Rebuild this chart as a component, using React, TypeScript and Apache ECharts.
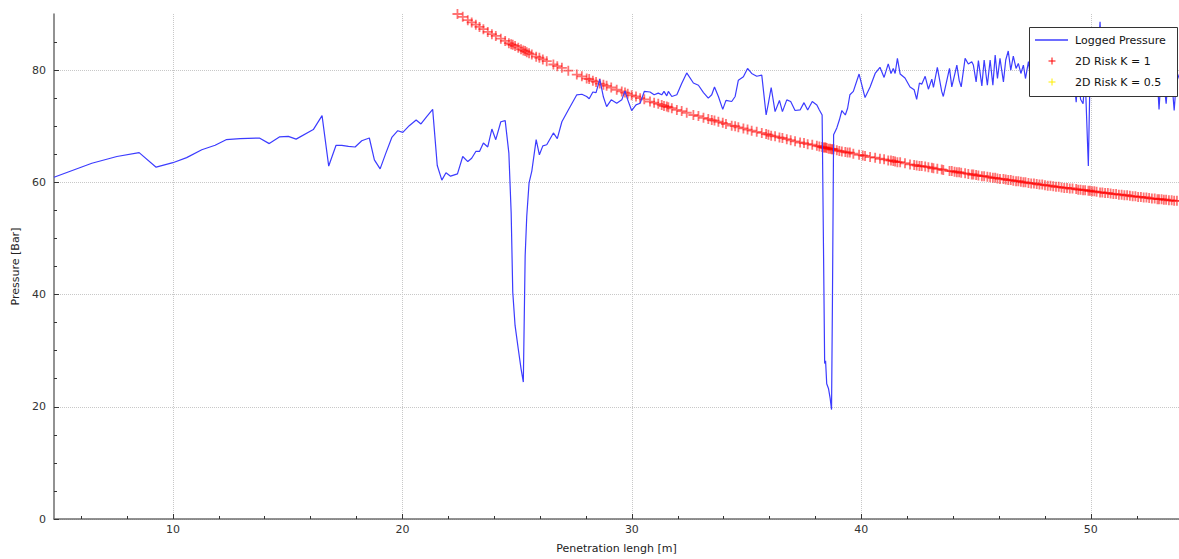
import React, { useEffect, useRef } from "react";
import * as echarts from "echarts";

const FONT = "'DejaVu Sans', sans-serif";

const X_MIN = 4.82;
const X_MAX = 53.84;
const Y_MIN = 0;
const Y_MAX = 90;
const X_MAJOR = [10, 20, 30, 40, 50];
const X_MINOR = [6, 8, 12, 14, 16, 18, 22, 24, 26, 28, 32, 34, 36, 38, 42, 44, 46, 48, 52];
const Y_MAJOR = [0, 20, 40, 60, 80];
const Y_MINOR = [5, 10, 15, 25, 30, 35, 45, 50, 55, 65, 70, 75, 85];

const X_NAME = "Penetration lengh [m]";
const Y_NAME = "Pressure [Bar]";
const LEGEND_NAMES = ["Logged Pressure", "2D Risk K = 1", "2D Risk K = 0.5"];

const loggedPressure: [number, number][] = [
  [4.82, 60.9], [6.47, 63.4], [7.56, 64.6], [8.53, 65.3], [9.27, 62.7], [10.0, 63.5], [10.6, 64.4],
  [11.26, 65.8], [11.84, 66.6], [12.32, 67.6], [12.93, 67.8], [13.77, 67.9], [14.2, 66.9], [14.64, 68.1],
  [15.03, 68.2], [15.37, 67.7], [16.12, 69.4], [16.5, 71.9], [16.79, 62.9], [17.11, 66.6], [17.36, 66.6],
  [17.65, 66.4], [17.94, 66.3], [18.23, 67.4], [18.56, 67.9], [18.78, 64.0], [19.03, 62.4], [19.28, 65.2],
  [19.54, 68.0], [19.8, 69.2], [20.02, 68.9], [20.3, 70.1], [20.6, 71.1], [20.81, 70.4], [21.06, 71.7],
  [21.32, 73.0], [21.52, 63.0], [21.72, 60.4], [21.9, 61.7], [22.1, 61.1], [22.4, 61.5], [22.63, 64.6],
  [22.85, 63.7], [23.02, 64.3], [23.2, 65.5], [23.36, 65.5], [23.53, 67.0], [23.72, 66.3], [23.9, 69.5],
  [24.07, 67.6], [24.29, 70.8], [24.48, 71.0], [24.64, 65.2], [24.74, 54.6], [24.81, 40.4], [24.91, 34.5],
  [25.05, 30.3], [25.17, 26.8], [25.27, 24.4], [25.35, 46.9], [25.42, 54.0], [25.52, 59.9], [25.64, 62.0],
  [25.83, 67.6], [25.97, 64.9], [26.12, 66.5], [26.29, 66.7], [26.58, 68.8], [26.75, 67.8], [26.95, 70.8],
  [27.23, 72.9], [27.6, 75.6], [27.82, 75.7], [28.03, 75.3], [28.14, 74.9], [28.3, 76.1], [28.44, 76.0],
  [28.6, 78.4], [28.76, 75.2], [28.9, 73.5], [29.1, 74.7], [29.34, 74.1], [29.56, 74.7], [29.7, 76.3],
  [29.82, 74.7], [29.99, 72.8], [30.18, 73.8], [30.36, 74.1], [30.54, 76.2], [30.79, 76.1], [30.97, 75.6],
  [31.15, 75.9], [31.3, 75.6], [31.4, 76.2], [31.52, 75.4], [31.59, 76.2], [31.74, 75.3], [31.96, 75.6],
  [32.17, 77.6], [32.39, 79.5], [32.68, 77.7], [32.9, 77.3], [33.12, 76.0], [33.33, 75.0], [33.48, 75.6],
  [33.6, 77.0], [33.77, 75.3], [33.96, 73.0], [34.1, 74.6], [34.35, 74.4], [34.5, 75.3], [34.64, 78.2],
  [34.86, 78.8], [35.04, 80.3], [35.22, 79.4], [35.44, 78.9], [35.66, 79.1], [35.85, 72.0], [35.95, 74.1],
  [36.07, 76.9], [36.24, 72.6], [36.43, 74.6], [36.56, 72.6], [36.75, 74.7], [36.92, 74.4], [37.11, 72.8],
  [37.33, 72.9], [37.5, 74.2], [37.66, 72.9], [37.86, 74.4], [38.06, 73.8], [38.17, 72.9], [38.29, 72.0],
  [38.35, 48.1], [38.4, 27.7], [38.44, 28.2], [38.49, 24.1], [38.57, 23.2], [38.64, 21.5], [38.7, 19.5],
  [38.74, 39.2], [38.79, 68.5], [38.93, 69.7], [39.04, 71.1], [39.15, 72.8], [39.3, 72.0], [39.4, 73.2],
  [39.5, 75.6], [39.65, 76.2], [39.9, 79.3], [40.06, 76.7], [40.16, 75.1], [40.38, 77.0], [40.6, 79.4],
  [40.81, 80.5], [40.99, 78.7], [41.17, 81.1], [41.29, 79.4], [41.39, 80.3], [41.47, 79.4], [41.57, 82.1],
  [41.69, 79.3], [41.9, 78.6], [42.12, 77.0], [42.3, 76.5], [42.41, 74.8], [42.53, 77.7], [42.63, 77.5],
  [42.78, 78.9], [42.92, 76.6], [43.07, 78.4], [43.14, 76.9], [43.31, 80.5], [43.5, 76.2], [43.57, 75.3],
  [43.84, 80.3], [43.94, 77.0], [44.06, 79.1], [44.16, 80.9], [44.26, 78.2], [44.35, 77.0], [44.52, 82.1],
  [44.66, 81.1], [44.81, 81.5], [44.88, 80.9], [45.0, 77.9], [45.1, 81.7], [45.25, 77.2], [45.35, 81.8],
  [45.49, 77.3], [45.61, 81.8], [45.73, 77.3], [45.83, 82.7], [45.93, 78.5], [46.04, 82.1], [46.19, 77.9],
  [46.29, 81.8], [46.4, 83.4], [46.51, 80.0], [46.62, 82.5], [46.74, 80.3], [46.84, 81.2], [46.95, 79.4],
  [47.06, 80.9], [47.15, 78.5], [47.28, 81.5], [47.4, 78.0], [47.52, 81.9], [47.64, 78.6], [47.76, 82.3],
  [47.88, 79.0], [48.0, 81.6], [48.12, 77.8], [48.24, 82.0], [48.36, 79.2], [48.48, 81.4], [48.6, 78.1],
  [48.72, 82.4], [48.84, 79.5], [48.96, 81.2], [49.08, 78.4], [49.2, 81.0], [49.36, 74.3], [49.45, 79.5],
  [49.55, 74.8], [49.66, 74.0], [49.75, 79.0], [49.89, 62.9], [49.96, 78.5], [50.05, 75.2], [50.15, 80.0],
  [50.25, 78.0], [50.4, 88.6], [50.5, 79.0], [50.62, 82.0], [50.74, 78.6], [50.86, 81.8], [50.98, 79.0],
  [51.1, 82.2], [51.22, 78.4], [51.34, 81.5], [51.46, 79.2], [51.58, 82.0], [51.7, 78.8], [51.82, 81.6],
  [51.94, 79.4], [52.06, 82.1], [52.18, 78.5], [52.3, 81.3], [52.42, 79.0], [52.54, 81.9], [52.66, 78.7],
  [52.78, 81.0], [52.9, 78.2], [52.97, 73.0], [53.08, 80.5], [53.18, 77.8], [53.28, 74.0], [53.4, 80.2],
  [53.52, 78.5], [53.63, 72.8], [53.75, 79.6], [53.9, 78.0],
];

const riskK1: [number, number][] = [
  [22.4, 90.0], [22.63, 89.5], [22.85, 88.9], [23.02, 88.5], [23.2, 88.1], [23.36, 87.7], [23.53, 87.3],
  [23.72, 86.8], [23.9, 86.4], [24.07, 86.1], [24.29, 85.6], [24.48, 85.2], [24.64, 84.8], [24.74, 84.6],
  [24.81, 84.5], [24.91, 84.3], [25.05, 84.0], [25.17, 83.7], [25.27, 83.5], [25.35, 83.4], [25.42, 83.2],
  [25.52, 83.0], [25.64, 82.8], [25.83, 82.4], [25.97, 82.2], [26.12, 81.9], [26.29, 81.6], [26.58, 81.0],
  [26.75, 80.7], [26.95, 80.4], [27.23, 79.9], [27.6, 79.2], [27.82, 78.9], [28.03, 78.5], [28.14, 78.4],
  [28.3, 78.1], [28.44, 77.9], [28.6, 77.6], [28.76, 77.4], [28.9, 77.2], [29.1, 76.9], [29.34, 76.5],
  [29.56, 76.2], [29.7, 76.0], [29.82, 75.8], [29.99, 75.5], [30.18, 75.3], [30.36, 75.0], [30.54, 74.8],
  [30.79, 74.4], [30.97, 74.2], [31.15, 74.0], [31.3, 73.8], [31.4, 73.6], [31.52, 73.5], [31.59, 73.4],
  [31.74, 73.2], [31.96, 72.9], [32.17, 72.7], [32.39, 72.4], [32.68, 72.0], [32.9, 71.8], [33.12, 71.5],
  [33.33, 71.3], [33.48, 71.1], [33.6, 71.0], [33.77, 70.8], [33.96, 70.6], [34.1, 70.4], [34.35, 70.1],
  [34.5, 70.0], [34.64, 69.8], [34.86, 69.6], [35.04, 69.4], [35.22, 69.2], [35.44, 69.0], [35.66, 68.8],
  [35.85, 68.6], [35.95, 68.5], [36.07, 68.3], [36.24, 68.2], [36.43, 68.0], [36.56, 67.9], [36.75, 67.7],
  [36.92, 67.5], [37.11, 67.3], [37.33, 67.1], [37.5, 67.0], [37.66, 66.8], [37.86, 66.7], [38.06, 66.5],
  [38.17, 66.4], [38.29, 66.3], [38.35, 66.2], [38.4, 66.2], [38.44, 66.2], [38.49, 66.1], [38.57, 66.0],
  [38.64, 66.0], [38.7, 65.9], [38.74, 65.9], [38.79, 65.9], [38.93, 65.7], [39.04, 65.6], [39.15, 65.5],
  [39.3, 65.4], [39.4, 65.3], [39.5, 65.3], [39.65, 65.1], [39.9, 64.9], [40.06, 64.8], [40.16, 64.7],
  [40.38, 64.5], [40.6, 64.4], [40.81, 64.2], [40.99, 64.1], [41.17, 63.9], [41.29, 63.9], [41.39, 63.8],
  [41.47, 63.7], [41.57, 63.6], [41.69, 63.6], [41.9, 63.4], [42.12, 63.2], [42.3, 63.1], [42.41, 63.0],
  [42.53, 62.9], [42.63, 62.9], [42.78, 62.8], [42.92, 62.7], [43.07, 62.6], [43.14, 62.5], [43.31, 62.4],
  [43.5, 62.3], [43.57, 62.2], [43.84, 62.0], [43.94, 62.0], [44.06, 61.9], [44.16, 61.8], [44.26, 61.8],
  [44.35, 61.7], [44.52, 61.6], [44.66, 61.5], [44.81, 61.4], [44.88, 61.4], [45.0, 61.3], [45.1, 61.2],
  [45.25, 61.1], [45.35, 61.1], [45.49, 61.0], [45.61, 60.9], [45.73, 60.8], [45.83, 60.8], [45.93, 60.7],
  [46.04, 60.6], [46.19, 60.6], [46.29, 60.5], [46.4, 60.4], [46.51, 60.4], [46.62, 60.3], [46.74, 60.2],
  [46.84, 60.2], [46.95, 60.1], [47.06, 60.0], [47.15, 60.0], [47.28, 59.9], [47.4, 59.8], [47.52, 59.8],
  [47.64, 59.7], [47.76, 59.6], [47.88, 59.6], [48.0, 59.5], [48.12, 59.4], [48.24, 59.4], [48.36, 59.3],
  [48.48, 59.2], [48.6, 59.2], [48.72, 59.1], [48.84, 59.0], [48.96, 59.0], [49.08, 58.9], [49.2, 58.9],
  [49.36, 58.8], [49.45, 58.7], [49.55, 58.7], [49.66, 58.6], [49.75, 58.6], [49.89, 58.5], [49.96, 58.5],
  [50.05, 58.4], [50.15, 58.4], [50.25, 58.3], [50.4, 58.2], [50.5, 58.2], [50.62, 58.1], [50.74, 58.1],
  [50.86, 58.0], [50.98, 57.9], [51.1, 57.9], [51.22, 57.8], [51.34, 57.8], [51.46, 57.7], [51.58, 57.7],
  [51.7, 57.6], [51.82, 57.5], [51.94, 57.5], [52.06, 57.4], [52.18, 57.4], [52.3, 57.3], [52.42, 57.3],
  [52.54, 57.2], [52.66, 57.1], [52.78, 57.1], [52.9, 57.0], [52.97, 57.0], [53.08, 57.0], [53.18, 56.9],
  [53.28, 56.9], [53.4, 56.8], [53.52, 56.8], [53.63, 56.7], [53.75, 56.7], [53.9, 56.6],
];

const riskK05: [number, number][] = [];

const BLUE = "#3c3cff";
const RED = "#ff0000";
const YELLOW = "#ffee00";
const PLUS = "path://M4.1,0h1.8v4.1h4.1v1.8h-4.1v4.1h-1.8v-4.1h-4.1v-1.8h4.1z";

export default function App() {
  const ref = useRef<HTMLDivElement>(null);

  useEffect(() => {
    if (!ref.current) return;
    const chart = echarts.init(ref.current, undefined, { renderer: "svg" });
    const axisLineStyle = { color: "#6e6e6e", width: 1.5 };
    const tickStyle = { color: "#333333", width: 1 };
    const labelStyle = { color: "#333333", fontSize: 11, fontFamily: FONT };
    const Z = 100;

    const plusLines = (cx: number, cy: number, color: string) => [
      { type: "line", z: Z + 1, shape: { x1: cx - 3.5, y1: cy, x2: cx + 3.5, y2: cy }, style: { stroke: color, lineWidth: 1 } },
      { type: "line", z: Z + 1, shape: { x1: cx, y1: cy - 3.5, x2: cx, y2: cy + 3.5 }, style: { stroke: color, lineWidth: 1 } },
    ];
    const legendText = (y: number, text: string) => ({
      type: "text",
      z: Z + 1,
      x: 1075,
      y,
      style: { text, fill: "#111111", font: `11px ${FONT}`, verticalAlign: "middle", align: "left" },
    });

    chart.setOption({
      animation: false,
      backgroundColor: "#ffffff",
      grid: { left: 54, right: 0, top: 14, bottom: 38, containLabel: false },
      xAxis: [
        {
          type: "value",
          min: X_MIN,
          max: X_MAX,
          splitNumber: 5,
          position: "bottom",
          name: X_NAME,
          nameLocation: "middle",
          nameGap: 24,
          nameTextStyle: { color: "#222222", fontSize: 11, fontFamily: FONT },
          axisLine: { show: true, lineStyle: axisLineStyle },
          axisTick: { show: true, inside: true, length: 5, lineStyle: tickStyle, customValues: X_MAJOR },
          axisLabel: { ...labelStyle, margin: 5, customValues: X_MAJOR },
          splitLine: { show: true, lineStyle: { type: "dotted", color: "#c8c8c8", width: 1 } },
          minorTick: { show: false },
        },
        {
          type: "value",
          min: X_MIN,
          max: X_MAX,
          position: "bottom",
          offset: 0,
          axisLine: { show: false },
          axisTick: { show: true, inside: true, length: 3, lineStyle: tickStyle, customValues: X_MINOR },
          axisLabel: { show: false },
          splitLine: { show: false },
        },
      ],
      yAxis: [
        {
          type: "value",
          min: Y_MIN,
          max: Y_MAX,
          splitNumber: 5,
          position: "left",
          name: Y_NAME,
          nameLocation: "middle",
          nameGap: 32,
          nameTextStyle: { color: "#222222", fontSize: 11, fontFamily: FONT },
          axisLine: { show: true, lineStyle: axisLineStyle },
          axisTick: { show: true, inside: true, length: 5, lineStyle: tickStyle, customValues: Y_MAJOR },
          axisLabel: { ...labelStyle, margin: 8, customValues: Y_MAJOR },
          splitLine: { show: true, lineStyle: { type: "dotted", color: "#c8c8c8", width: 1 } },
        },
        {
          type: "value",
          min: Y_MIN,
          max: Y_MAX,
          position: "left",
          offset: 0,
          axisLine: { show: false },
          axisTick: { show: true, inside: true, length: 3, lineStyle: tickStyle, customValues: Y_MINOR },
          axisLabel: { show: false },
          splitLine: { show: false },
        },
      ],
      series: [
        {
          name: LEGEND_NAMES[0],
          type: "line",
          data: loggedPressure,
          symbol: "none",
          showSymbol: false,
          clip: true,
          lineStyle: { color: BLUE, width: 1.2 },
          z: 3,
        },
        {
          name: LEGEND_NAMES[1],
          type: "scatter",
          data: riskK1,
          symbol: PLUS,
          symbolSize: 10,
          clip: true,
          itemStyle: { color: RED, opacity: 0.55 },
          z: 2,
        },
        {
          name: LEGEND_NAMES[2],
          type: "scatter",
          data: riskK05,
          symbol: PLUS,
          symbolSize: 10,
          clip: true,
          itemStyle: { color: YELLOW },
          z: 2,
        },
      ],
      graphic: [
        {
          type: "rect",
          z: Z,
          shape: { x: 1029.5, y: 27.5, width: 148, height: 69 },
          style: { fill: "#ffffff", stroke: "#333333", lineWidth: 1 },
        },
        { type: "line", z: Z + 1, shape: { x1: 1035, y1: 40, x2: 1068, y2: 40 }, style: { stroke: BLUE, lineWidth: 1.5 } },
        legendText(40, LEGEND_NAMES[0]),
        ...plusLines(1052, 61, RED),
        legendText(61, LEGEND_NAMES[1]),
        ...plusLines(1052, 82, YELLOW),
        legendText(82, LEGEND_NAMES[2]),
      ],
    });
    return () => chart.dispose();
  }, []);

  return (
    <div
      ref={ref}
      style={{ position: "fixed", left: 0, top: 0, width: 1179, height: 559, background: "#ffffff" }}
    />
  );
}
